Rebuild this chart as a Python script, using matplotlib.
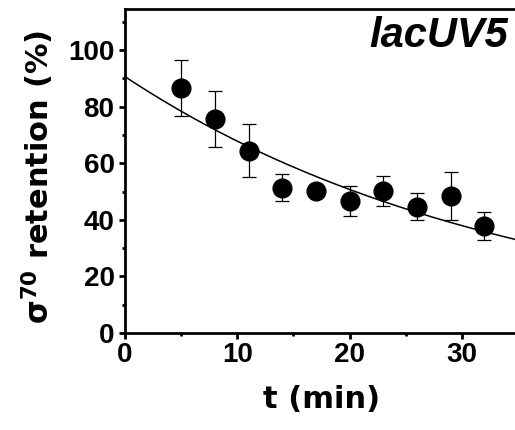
import numpy as np
import matplotlib
matplotlib.use("Agg")
import matplotlib.pyplot as plt
from matplotlib.ticker import MultipleLocator

plt.rcParams['font.family'] = ['Liberation Sans', 'DejaVu Sans']
plt.rcParams['font.weight'] = 'bold'
plt.rcParams['mathtext.fontset'] = 'dejavusans'
plt.rcParams['mathtext.default'] = 'bf'

# data
time_min = [5, 8, 11, 14, 17, 20, 23, 26, 29, 32]
retention = [86.6, 75.7, 64.4, 51.3, 50.2, 46.8, 50.2, 44.6, 48.5, 37.8]
retention_err = [10.0, 9.9, 9.4, 4.8, 0.0, 5.3, 5.4, 4.8, 8.5, 5.0]
fit_amp = 90.6
fit_rate = 0.029
panel_label = "lacUV5"

fig = plt.figure(figsize=(5.15, 4.30), dpi=100)
ax = fig.add_axes([125/515, 97/430, 393/515, 324/430])

t_fit = np.linspace(0, 35, 200)
ax.plot(t_fit, fit_amp * np.exp(-fit_rate * t_fit), color='black', lw=1.1, zorder=2)
ax.errorbar(time_min, retention, yerr=retention_err, fmt='o', color='black',
            ms=13.5, elinewidth=0.9, capsize=5.3, capthick=0.9, zorder=3)

ax.set_xlim(0, 35)
ax.set_ylim(0, 114.5)
ax.xaxis.set_major_locator(MultipleLocator(10))
ax.xaxis.set_minor_locator(MultipleLocator(5))
ax.yaxis.set_major_locator(MultipleLocator(20))
ax.yaxis.set_minor_locator(MultipleLocator(10))
for s in ax.spines.values():
    s.set_linewidth(2.0)
ax.tick_params(which='major', direction='out', length=4.5, width=2, labelsize=20)
ax.tick_params(axis='y', which='major', pad=3)
ax.tick_params(axis='x', which='major', pad=2)
ax.tick_params(which='minor', direction='out', length=2.5, width=2)
for lab in ax.get_xticklabels() + ax.get_yticklabels():
    lab.set_fontweight('bold')

ax.set_xlabel('t (min)', fontsize=22, fontweight='bold', family='DejaVu Sans', labelpad=12)
ax.set_ylabel(r'$\sigma^{70}$ retention (%)', fontsize=22, fontweight='bold',
              family='DejaVu Sans')
ax.yaxis.set_label_coords(-0.176, 0.483)

fig.text(508/515, 1 - 47/430, panel_label, fontsize=30, fontweight='bold', style='italic',
         ha='right', va='baseline')

fig.savefig('out.png', dpi=100)
